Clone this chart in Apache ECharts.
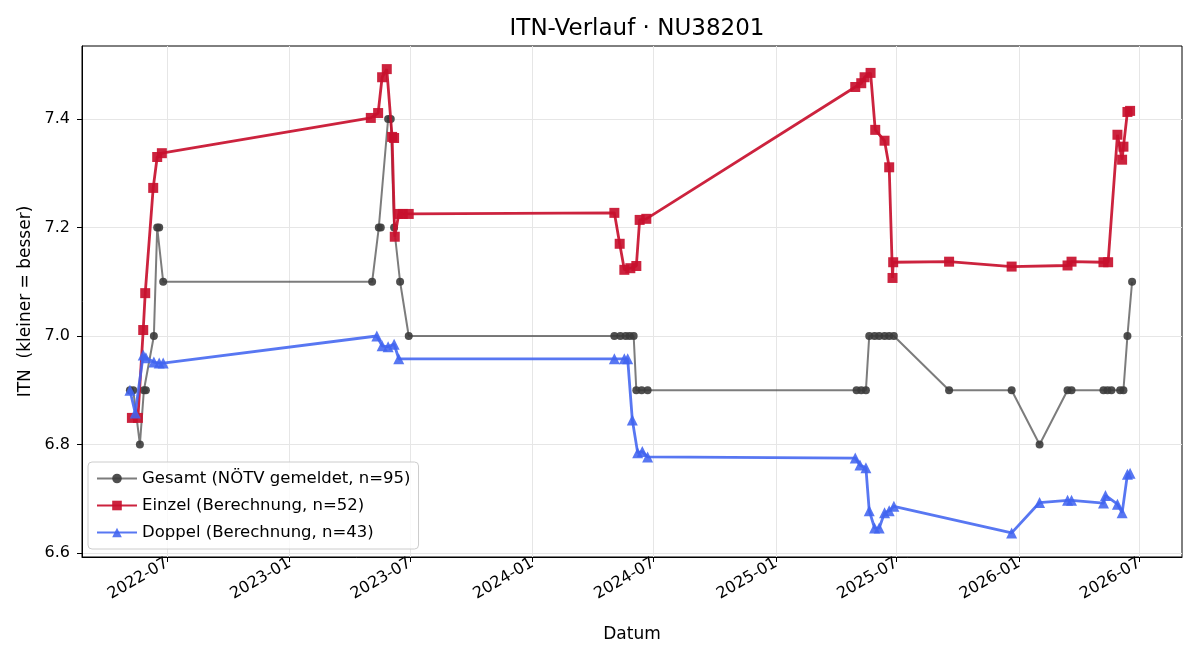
<!DOCTYPE html>
<html>
<head>
<meta charset="utf-8">
<script src="https://cdn.jsdelivr.net/npm/echarts@6/dist/echarts.min.js"></script>
<style>
  html, body { margin: 0; padding: 0; background: #fff; }
  #chart { width: 1200px; height: 660px; }
</style>
</head>
<body>
<div id="chart"></div>
<script>
// Gesamt (NÖTV gemeldet)
const gesamtDates = [
  '2022-05-06', '2022-05-11', '2022-05-21', '2022-05-27', '2022-05-30', '2022-06-11', '2022-06-16', '2022-06-19', '2022-06-25',
  '2023-05-05', '2023-05-15', '2023-05-18', '2023-05-29', '2023-06-02', '2023-06-07', '2023-06-16', '2023-06-29',
  '2024-05-03', '2024-05-12', '2024-05-20', '2024-05-26', '2024-06-01', '2024-06-05', '2024-06-13', '2024-06-22',
  '2025-05-02', '2025-05-09', '2025-05-16', '2025-05-21', '2025-05-29', '2025-06-05', '2025-06-13', '2025-06-20', '2025-06-27',
  '2025-09-18', '2025-12-21', '2026-02-01', '2026-03-15', '2026-03-21',
  '2026-05-08', '2026-05-14', '2026-05-20', '2026-06-02', '2026-06-07', '2026-06-13', '2026-06-20'
];
const gesamtValues = [
  6.9, 6.9, 6.8, 6.9, 6.9, 7.0, 7.2, 7.2, 7.1,
  7.1, 7.2, 7.2, 7.4, 7.4, 7.2, 7.1, 7.0,
  7.0, 7.0, 7.0, 7.0, 7.0, 6.9, 6.9, 6.9,
  6.9, 6.9, 6.9, 7.0, 7.0, 7.0, 7.0, 7.0, 7.0,
  6.9, 6.9, 6.8, 6.9, 6.9,
  6.9, 6.9, 6.9, 6.9, 6.9, 7.0, 7.1
];

// Einzel (Berechnung)
const einzelDates = [
  '2022-05-09', '2022-05-18', '2022-05-26', '2022-05-29', '2022-06-10', '2022-06-16', '2022-06-23',
  '2023-05-03', '2023-05-14', '2023-05-20', '2023-05-27', '2023-06-04', '2023-06-07', '2023-06-08', '2023-06-14', '2023-06-20', '2023-06-29',
  '2024-05-03', '2024-05-11', '2024-05-18', '2024-05-27', '2024-06-05', '2024-06-10', '2024-06-20',
  '2025-04-30', '2025-05-09', '2025-05-14', '2025-05-23', '2025-05-30', '2025-06-13', '2025-06-20', '2025-06-25', '2025-06-26',
  '2025-09-18', '2025-12-21', '2026-03-15', '2026-03-21',
  '2026-05-08', '2026-05-15', '2026-05-29', '2026-06-05', '2026-06-07', '2026-06-13', '2026-06-17'
];
const einzelValues = [
  6.849, 6.849, 7.011, 7.079, 7.273, 7.330, 7.337,
  7.402, 7.411, 7.477, 7.492, 7.367, 7.365, 7.183, 7.225, 7.225, 7.225,
  7.227, 7.170, 7.122, 7.125, 7.129, 7.214, 7.216,
  7.459, 7.466, 7.477, 7.485, 7.380, 7.360, 7.311, 7.107, 7.136,
  7.137, 7.128, 7.130, 7.137,
  7.136, 7.136, 7.371, 7.325, 7.349, 7.413, 7.415
];

// Doppel (Berechnung)
const doppelDates = [
  '2022-05-06', '2022-05-14', '2022-05-26', '2022-05-30', '2022-06-11', '2022-06-19', '2022-06-25',
  '2023-05-12', '2023-05-20', '2023-05-29', '2023-06-07', '2023-06-14',
  '2024-05-03', '2024-05-18', '2024-05-23', '2024-05-30', '2024-06-07', '2024-06-14', '2024-06-22',
  '2025-04-30', '2025-05-07', '2025-05-16', '2025-05-21', '2025-05-29', '2025-06-05', '2025-06-13', '2025-06-20', '2025-06-27',
  '2025-12-21', '2026-02-01', '2026-03-15', '2026-03-21',
  '2026-05-08', '2026-05-11', '2026-05-29', '2026-06-05', '2026-06-13', '2026-06-17'
];
const doppelValues = [
  6.900, 6.858, 6.965, 6.960, 6.952, 6.950, 6.950,
  7.000, 6.982, 6.980, 6.985, 6.958,
  6.958, 6.958, 6.958, 6.845, 6.785, 6.787, 6.777,
  6.775, 6.762, 6.757, 6.678, 6.646, 6.646, 6.674, 6.678, 6.686,
  6.637, 6.693, 6.697, 6.697,
  6.692, 6.706, 6.690, 6.674, 6.745, 6.747
];

const xTickMonths = ['2022-07-01', '2023-01-01', '2023-07-01', '2024-01-01', '2024-07-01',
  '2025-01-01', '2025-07-01', '2026-01-01', '2026-07-01'];
const yTicks = [6.6, 6.8, 7.0, 7.2, 7.4];

const parseDay = (s) => {
  const [y, m, d] = s.split('-').map(Number);
  return new Date(y, m - 1, d).getTime();
};
const zip = (dates, vals) => dates.map((d, i) => [parseDay(d), vals[i]]);
const xTickValues = xTickMonths.map(parseDay);

const FONT = 'DejaVu Sans';
const chart = echarts.init(document.getElementById('chart'));

chart.setOption({
  animation: false,
  title: {
    text: 'ITN-Verlauf · NU38201',
    left: 632,
    top: 13,
    textAlign: 'center',
    textStyle: { fontFamily: FONT, fontSize: 23, fontWeight: 'normal', color: '#000' }
  },
  grid: {
    left: 82, right: 18, top: 46, bottom: 103,
    show: true, borderColor: '#000', borderWidth: 1, backgroundColor: 'transparent'
  },
  legend: {
    orient: 'vertical',
    left: 88,
    top: 462,
    itemWidth: 40,
    itemHeight: 12,
    itemGap: 10,
    padding: [8, 8, 8, 8],
    borderColor: '#cccccc',
    borderWidth: 1,
    borderRadius: 4,
    backgroundColor: 'rgba(255,255,255,0.8)',
    textStyle: { fontFamily: FONT, fontSize: 16.5, color: '#000' },
    data: ['Gesamt (NÖTV gemeldet, n=95)', 'Einzel (Berechnung, n=52)', 'Doppel (Berechnung, n=43)']
  },
  xAxis: {
    type: 'value',
    min: parseDay('2022-02-23'),
    max: parseDay('2026-09-03'),
    name: 'Datum',
    nameLocation: 'middle',
    nameGap: 69,
    nameTextStyle: { fontFamily: FONT, fontSize: 17, color: '#000' },
    axisLine: { lineStyle: { color: '#000' } },
    axisTick: {
      show: true, length: 5, inside: false,
      customValues: xTickValues,
      lineStyle: { color: '#000' }
    },
    axisLabel: {
      customValues: xTickValues,
      rotate: 30,
      margin: 5,
      fontFamily: FONT,
      fontSize: 16,
      color: '#000',
      formatter: (v) => {
        const d = new Date(v);
        return d.getFullYear() + '-' + String(d.getMonth() + 1).padStart(2, '0');
      }
    },
    splitLine: { show: true, lineStyle: { color: '#e6e6e6', width: 1 } }
  },
  yAxis: {
    type: 'value',
    min: 6.5926,
    max: 7.5346,
    name: 'ITN  (kleiner = besser)',
    nameLocation: 'middle',
    nameGap: 47,
    nameTextStyle: { fontFamily: FONT, fontSize: 17, color: '#000' },
    axisLine: { show: true, lineStyle: { color: '#000' } },
    axisTick: {
      show: true, length: 5,
      customValues: yTicks,
      lineStyle: { color: '#000' }
    },
    axisLabel: {
      customValues: yTicks,
      margin: 12,
      fontFamily: FONT,
      fontSize: 16,
      color: '#000',
      formatter: (v) => v.toFixed(1)
    },
    splitLine: { show: true, lineStyle: { color: '#e6e6e6', width: 1 } }
  },
  series: [
    {
      name: 'Gesamt (NÖTV gemeldet, n=95)',
      type: 'line',
      data: zip(gesamtDates, gesamtValues),
      symbol: 'circle',
      symbolSize: 8,
      showAllSymbol: true,
      lineStyle: { color: 'rgba(68,68,68,0.7)', width: 2 },
      itemStyle: { color: 'rgba(60,60,60,0.9)', borderWidth: 0 },
      z: 2
    },
    {
      name: 'Einzel (Berechnung, n=52)',
      type: 'line',
      data: zip(einzelDates, einzelValues),
      symbol: 'rect',
      symbolSize: 10,
      showAllSymbol: true,
      lineStyle: { color: 'rgba(200,16,46,0.92)', width: 2.8 },
      itemStyle: { color: 'rgba(200,16,46,0.92)', borderWidth: 0 },
      z: 3
    },
    {
      name: 'Doppel (Berechnung, n=43)',
      type: 'line',
      data: zip(doppelDates, doppelValues),
      symbol: 'triangle',
      symbolSize: 11,
      showAllSymbol: true,
      lineStyle: { color: 'rgba(65,100,240,0.88)', width: 2.8 },
      itemStyle: { color: 'rgba(65,100,240,0.88)', borderWidth: 0 },
      z: 4
    }
  ]
});
</script>
</body>
</html>
